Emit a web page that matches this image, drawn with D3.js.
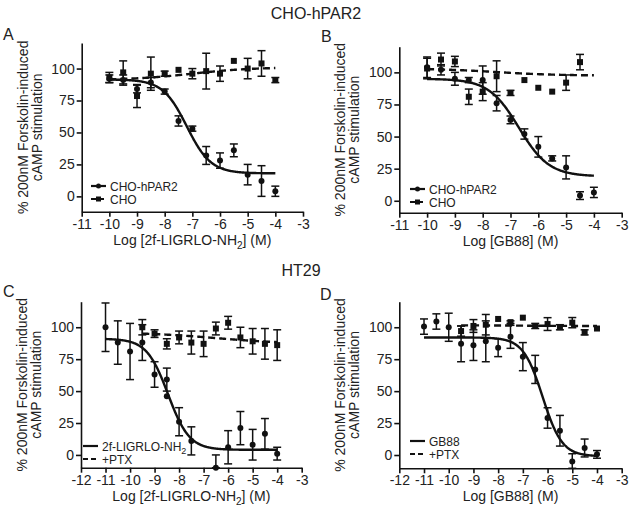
<!DOCTYPE html>
<html>
<head>
<meta charset="utf-8">
<script src="https://cdn.jsdelivr.net/npm/d3@7"></script>
<style>
	body { margin: 0; background: #fff; }
	text { font-family: "Liberation Sans", Arial, sans-serif; fill: #222; }
</style>
</head>
<body>
<svg id="chart" width="630" height="510"></svg>
<script>
// Log concentrations (M)
var xA = [-10, -9.5, -9, -8.5, -8, -7.5, -7, -6.5, -6, -5.5, -5, -4.5, -4];
var aPar2 = [92, 91, 84, 89, 82, 59, 53, 32, 28, 36, 17, 12, 4];
var aPar2Err = [3, 4, 3, 4, 2, 4, 2, 7, 6, 5, 8, 12, 4];
var aCho = [93, 97, 78.5, 96, 96, 99, 96, 98, 96, 106, 100, 104, 91];
var aChoErr = [4, 9, 9, 13, 2, 0, 4, 14, 6, 0, 8, 10, 2];

var xB = [-10, -9.5, -9, -8.5, -8, -7.5, -7, -6.5, -6, -5.5, -5, -4.5, -4];
var bPar2 = [104, 102, 95, 94, 94, 76, 63, 52, 42, 33, 26, 4, 6.5];
var bPar2Err = [8, 4, 5, 2, 11, 6, 3, 4, 8, 2, 9, 3, 4];
var xBCho = [-10, -9.5, -9, -8.5, -8, -7.5, -7, -6.5, -6, -5.5, -5, -4.5];
var bCho = [103, 110, 108.5, 81, 85, 97, 84, 94, 88, 85, 92, 108];
var bChoErr = [8, 5, 4, 6, 7, 12, 2, 0, 0, 0, 6, 6];

var xC = [-11, -10.5, -10, -9.5, -9, -8.5, -8.5, -8, -7.5, -6.5, -6, -5.5, -5, -4.5, -4];
var cLig = [100, 88, 81, 88, 63, 59, 46, 26, 11, -10, 6, 21, 8, 16.5, 1];
var cLigErr = [19, 17, 22, 14, 10, 9, 0, 11, 11, 10, 13, 13, 12, 12, 5];
var xCPtx = [-9.5, -9, -8.5, -8, -7.5, -7, -6.5, -6, -5.5, -5, -4.5, -4];
var cPtx = [100, 95, 87, 92, 88, 87, 99, 103.5, 92, 89, 87, 86];
var cPtxErr = [6, 3, 4, 5, 9, 10, 5, 5, 8, 10, 12, 12];

var xD = [-11, -10.5, -10, -9.5, -9, -8.5, -8, -7.5, -7, -6.5, -6, -5.5, -5, -4.5, -4];
var dGb = [100.5, 104.5, 100, 87, 86, 89, 84, 92.5, 77, 67, 29, 19, -5, 5.5, 0.5];
var dGbErr = [6, 6, 11, 14, 12, 16, 7, 9, 11, 11, 8, 12, 6, 7, 3];
var xDPtx = [-9.5, -9, -8.5, -8, -7.5, -7, -6.5, -6, -5.5, -5, -4.5, -4];
var dPtx = [97, 101, 102, 106.5, 104, 107.5, 101, 102.5, 100, 103.6, 96, 99];
var dPtxErr = [4, 5, 8, 0, 1, 0, 2, 5, 2, 4, 2, 0];

// Fitted curves: [left plateau, right plateau, logEC50, hill]
var aPar2Fit = [91.5, 18, -7.2, 1];
var aChoFit = [91, 101, -7, 0.4];
var bPar2Fit = [95, 19, -6.7, 0.8];
var bChoFit = [103, 97.5, -7.5, 0.4];
var cLigFit = [91, 4, -8.45, 1];
var cPtxFit = [96, 87, -6.5, 0.3];
var dGbFit = [92, -1, -6.2, 1.1];
var dPtxFit = [101.5, 101, -7, 0.5];

var xTicksAB = [-11, -10, -9, -8, -7, -6, -5, -4, -3];
var xTicksCD = [-12, -11, -10, -9, -8, -7, -6, -5, -4, -3];
var yTicks = [0, 25, 50, 75, 100];

var svg = d3.select("#chart");

var fourPL = function(p, x)
{
	return p[1] + (p[0] - p[1]) / (1 + Math.pow(10, (x - p[2]) * p[3]));
};

var addLabel = function(g, x, y, main, sub, rest, size)
{
	var t = g.append("text")
		.attr("x", x).attr("y", y)
		.attr("text-anchor", "middle")
		.style("font-size", size + "px");
	t.append("tspan").text(main);
	if (sub)
	{
		t.append("tspan").attr("dy", 4).style("font-size", (size - 4) + "px").text(sub);
		t.append("tspan").attr("dy", -4).text(rest);
	}
	return t;
};

var drawPanel = function(opt)
{
	var g = svg.append("g");
	var x = d3.scaleLinear().domain(opt.xDomain).range([opt.left, opt.right]);
	var y = d3.scaleLinear().domain(opt.yDomain).range([opt.bottom, opt.top]);

	var xAxis = g.append("g")
		.attr("transform", "translate(0," + opt.bottom + ")")
		.call(d3.axisBottom(x).tickValues(opt.xTicks).tickSize(5).tickSizeOuter(0).tickPadding(2)
			.tickFormat(function(d) { return String(d); }));
	var yAxis = g.append("g")
		.attr("transform", "translate(" + opt.left + ",0)")
		.call(d3.axisLeft(y).tickValues(yTicks).tickSize(5).tickSizeOuter(0).tickPadding(2)
			.tickFormat(function(d) { return String(d); }));

	[xAxis, yAxis].forEach(function(a)
	{
		a.selectAll("path, line").attr("stroke", "#111").attr("stroke-width", 1.6);
		a.selectAll("text").style("font-size", "14px").attr("fill", "#222");
	});

	// y label, two lines
	var yl = g.append("g")
		.attr("transform", "translate(" + (opt.left - 54) + "," + ((opt.top + opt.bottom) / 2) + ") rotate(-90)");
	yl.append("text").attr("text-anchor", "middle").attr("y", 0)
		.style("font-size", "14px").text("% 200nM Forskolin-induced");
	yl.append("text").attr("text-anchor", "middle").attr("y", 14)
		.style("font-size", "14px").text("cAMP stimulation");

	var xl = opt.xLabel;
	addLabel(g, (opt.left + opt.right) / 2, opt.bottom + 33, xl[0], xl[1], xl[2], 14);

	g.append("text").attr("x", opt.letterX).attr("y", opt.letterY)
		.style("font-size", "16px").text(opt.letter);

	var line = d3.line()
		.x(function(d) { return x(d[0]); })
		.y(function(d) { return y(d[1]); });

	var clampY = function(v) { return y(Math.max(opt.yDomain[0], Math.min(opt.yDomain[1], v))); };

	opt.series.forEach(function(s)
	{
		var pts = d3.range(s.range[0], s.range[1] + 0.001, 0.02).map(function(v) { return [v, fourPL(s.fit, v)]; });
		g.append("path")
			.attr("d", line(pts))
			.attr("fill", "none")
			.attr("stroke", "#111")
			.attr("stroke-width", 2.4)
			.attr("stroke-dasharray", s.dashed ? "7,4" : null);
	});

	opt.series.forEach(function(s)
	{
		var data = s.xs.map(function(v, i) { return {x: v, y: s.ys[i], e: s.errs[i]}; });
		var eb = g.append("g").attr("stroke", "#111").attr("stroke-width", 1.5);
		data.forEach(function(d)
		{
			if (!d.e) return;
			var cx = x(d.x), y1 = clampY(d.y + d.e), y2 = clampY(d.y - d.e);
			eb.append("line").attr("x1", cx).attr("x2", cx).attr("y1", y1).attr("y2", y2);
			eb.append("line").attr("x1", cx - 4).attr("x2", cx + 4).attr("y1", y1).attr("y2", y1);
			eb.append("line").attr("x1", cx - 4).attr("x2", cx + 4).attr("y1", y2).attr("y2", y2);
		});
		if (s.square)
		{
			g.selectAll(null).data(data).enter().append("rect")
				.attr("x", function(d) { return x(d.x) - 3; })
				.attr("y", function(d) { return y(d.y) - 3; })
				.attr("width", 6).attr("height", 6)
				.attr("fill", "#111");
		}
		else
		{
			g.selectAll(null).data(data).enter().append("circle")
				.attr("cx", function(d) { return x(d.x); })
				.attr("cy", function(d) { return y(d.y); })
				.attr("r", 3)
				.attr("fill", "#111");
		}
	});

	// Legend
	opt.series.forEach(function(s, i)
	{
		var ly = opt.legendY + i * 13;
		var lx = opt.legendX;
		g.append("line")
			.attr("x1", lx).attr("x2", lx + 15).attr("y1", ly).attr("y2", ly)
			.attr("stroke", "#111").attr("stroke-width", 2.2)
			.attr("stroke-dasharray", s.dashed ? "5,3" : null);
		if (opt.legendMarkers)
		{
			if (s.square)
			{
				g.append("rect").attr("x", lx + 5).attr("y", ly - 2.5).attr("width", 5).attr("height", 5).attr("fill", "#111");
			}
			else
			{
				g.append("circle").attr("cx", lx + 7.5).attr("cy", ly).attr("r", 2.5).attr("fill", "#111");
			}
		}
		var t = g.append("text").attr("x", lx + 19).attr("y", ly + 4.5).style("font-size", "12px");
		t.append("tspan").text(s.name[0]);
		if (s.name[1])
		{
			t.append("tspan").attr("dy", 3).style("font-size", "9px").text(s.name[1]);
		}
	});
};

svg.append("text").attr("x", 316).attr("y", 19).attr("text-anchor", "middle")
	.style("font-size", "16px").text("CHO-hPAR2");
svg.append("text").attr("x", 301).attr("y", 276).attr("text-anchor", "middle")
	.style("font-size", "16px").text("HT29");

drawPanel({
	left: 81.7, right: 303, top: 43, bottom: 211.7,
	xDomain: [-11, -3], yDomain: [-12, 120], xTicks: xTicksAB,
	xLabel: ["Log [2f-LIGRLO-NH", "2", "] (M)"],
	letter: "A", letterX: 3, letterY: 40,
	legendX: 91, legendY: 186, legendMarkers: true,
	series: [
		{name: ["CHO-hPAR2"], xs: xA, ys: aPar2, errs: aPar2Err, fit: aPar2Fit, range: [-10, -4], dashed: false, square: false},
		{name: ["CHO"], xs: xA, ys: aCho, errs: aChoErr, fit: aChoFit, range: [-10, -4], dashed: true, square: true}
	]
});

drawPanel({
	left: 399.3, right: 621.7, top: 46.7, bottom: 212.7,
	xDomain: [-11, -3], yDomain: [-9.3, 120], xTicks: xTicksAB,
	xLabel: ["Log [GB88] (M)"],
	letter: "B", letterX: 321, letterY: 42,
	legendX: 410, legendY: 189, legendMarkers: true,
	series: [
		{name: ["CHO-hPAR2"], xs: xB, ys: bPar2, errs: bPar2Err, fit: bPar2Fit, range: [-10, -4], dashed: false, square: false},
		{name: ["CHO"], xs: xBCho, ys: bCho, errs: bChoErr, fit: bChoFit, range: [-10, -4], dashed: true, square: true}
	]
});

drawPanel({
	left: 81, right: 301.7, top: 301.7, bottom: 467.7,
	xDomain: [-12, -3], yDomain: [-10, 120], xTicks: xTicksCD,
	xLabel: ["Log [2f-LIGRLO-NH", "2", "] (M)"],
	letter: "C", letterX: 3, letterY: 297,
	legendX: 83, legendY: 446, legendMarkers: false,
	series: [
		{name: ["2f-LIGRLO-NH", "2"], xs: xC, ys: cLig, errs: cLigErr, fit: cLigFit, range: [-11, -4], dashed: false, square: false},
		{name: ["+PTX"], xs: xCPtx, ys: cPtx, errs: cPtxErr, fit: cPtxFit, range: [-9.5, -4], dashed: true, square: true}
	]
});

drawPanel({
	left: 399.3, right: 621.7, top: 301.7, bottom: 468.3,
	xDomain: [-12, -3], yDomain: [-10.4, 120], xTicks: xTicksCD,
	xLabel: ["Log [GB88] (M)"],
	letter: "D", letterX: 320, letterY: 300,
	legendX: 410, legendY: 441, legendMarkers: false,
	series: [
		{name: ["GB88"], xs: xD, ys: dGb, errs: dGbErr, fit: dGbFit, range: [-11, -4], dashed: false, square: false},
		{name: ["+PTX"], xs: xDPtx, ys: dPtx, errs: dPtxErr, fit: dPtxFit, range: [-9.5, -4], dashed: true, square: true}
	]
});
</script>
</body>
</html>
